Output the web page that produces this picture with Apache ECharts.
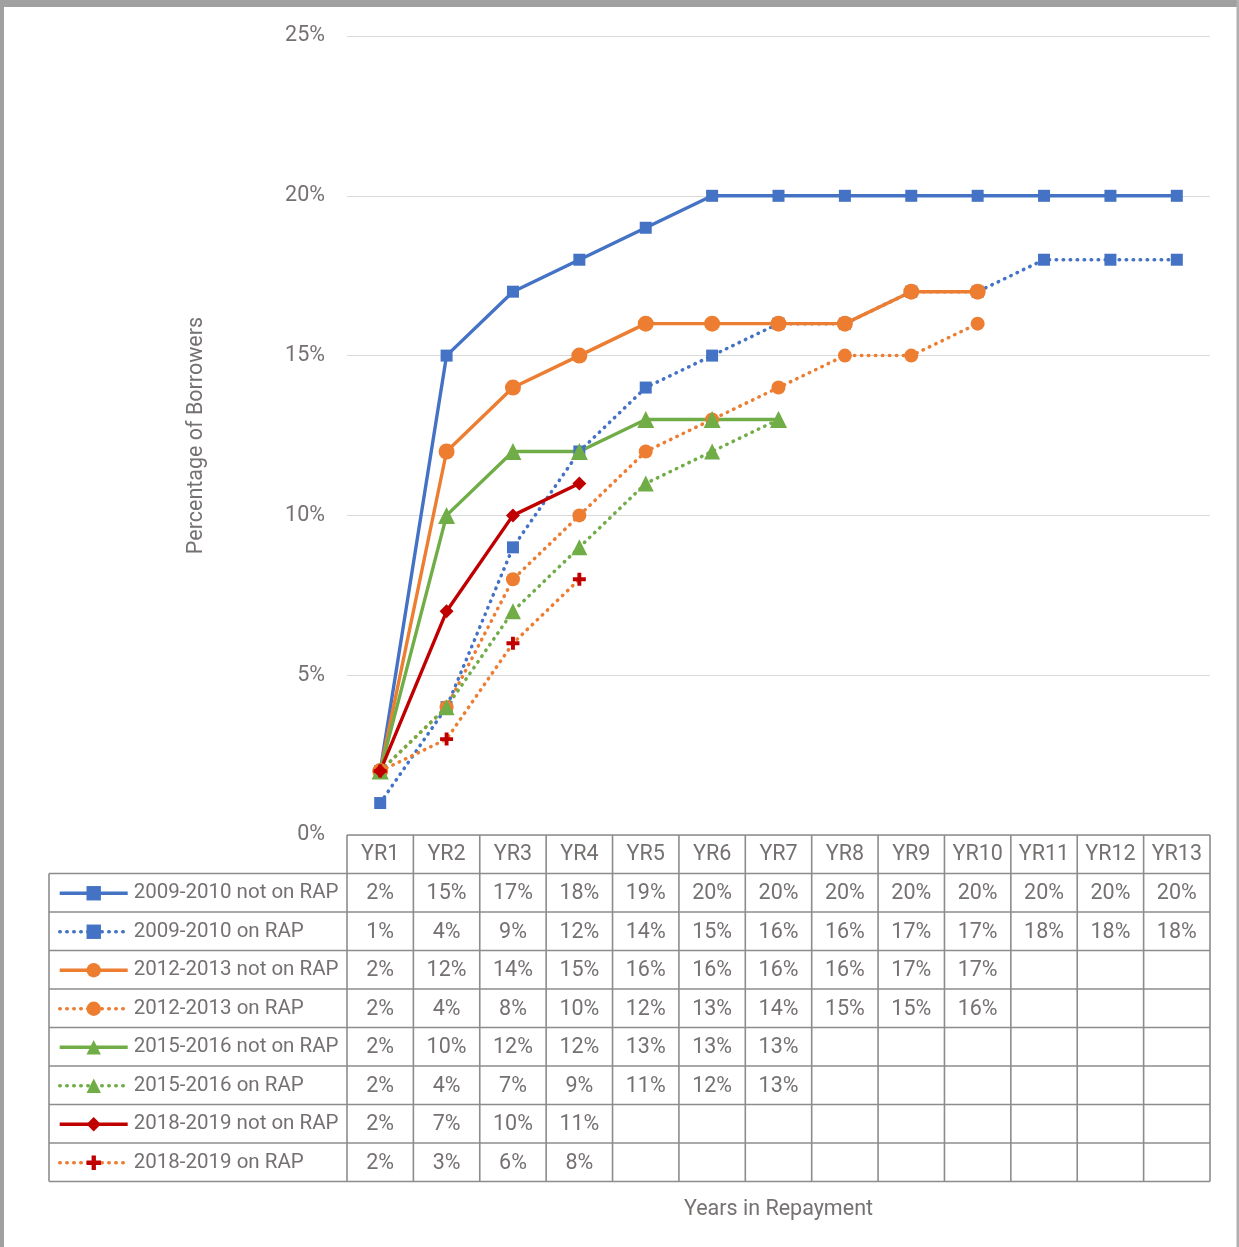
<!DOCTYPE html>
<html>
<head>
<meta charset="utf-8">
<script src="https://cdn.jsdelivr.net/npm/echarts@6/dist/echarts.min.js"></script>
<style>
  html, body { margin: 0; padding: 0; background: #fff; }
  #chart { width: 1239px; height: 1247px; }
</style>
</head>
<body>
<div id="chart"></div>
<script>
// Share of borrowers by years in repayment, per cohort and RAP status (percent)
const years = ['YR1','YR2','YR3','YR4','YR5','YR6','YR7','YR8','YR9','YR10','YR11','YR12','YR13'];
const yTicks = [0, 5, 10, 15, 20, 25];

const c0910Not = [2, 15, 17, 18, 19, 20, 20, 20, 20, 20, 20, 20, 20];
const c0910On  = [1, 4, 9, 12, 14, 15, 16, 16, 17, 17, 18, 18, 18];
const c1213Not = [2, 12, 14, 15, 16, 16, 16, 16, 17, 17];
const c1213On  = [2, 4, 8, 10, 12, 13, 14, 15, 15, 16];
const c1516Not = [2, 10, 12, 12, 13, 13, 13];
const c1516On  = [2, 4, 7, 9, 11, 12, 13];
const c1819Not = [2, 7, 10, 11];
const c1819On  = [2, 3, 6, 8];

const FONT = "Roboto, 'Liberation Sans', sans-serif";
const FS = 21.5;
const KEY_FS = 20.5;
const TEXT = '#767171';
const RULE = '#8c8c8c';
const BLUE = '#4472c4', ORANGE = '#ed7d31', GREEN = '#70ad47', RED = '#c00000';
const DOTS = [0.5, 6.5];
const PLUS = 'path://M3.5,0H6.5V3.5H10V6.5H6.5V10H3.5V6.5H0V3.5H3.5Z';

const seriesDefs = [
  { name: '2009-2010 not on RAP', data: c0910Not, color: BLUE,   dotted: false, symbol: 'rect',     size: 12 },
  { name: '2009-2010 on RAP',     data: c0910On,  color: BLUE,   dotted: true,  symbol: 'rect',     size: 12 },
  { name: '2012-2013 not on RAP', data: c1213Not, color: ORANGE, dotted: false, symbol: 'circle',   size: 16 },
  { name: '2012-2013 on RAP',     data: c1213On,  color: ORANGE, dotted: true,  symbol: 'circle',   size: 14 },
  { name: '2015-2016 not on RAP', data: c1516Not, color: GREEN,  dotted: false, symbol: 'triangle', size: 17 },
  { name: '2015-2016 on RAP',     data: c1516On,  color: GREEN,  dotted: true,  symbol: 'triangle', size: 16 },
  { name: '2018-2019 not on RAP', data: c1819Not, color: RED,    dotted: false, symbol: 'diamond',  size: 14 },
  { name: '2018-2019 on RAP',     data: c1819On,  color: ORANGE, dotted: true,  symbol: PLUS,       size: 13, markColor: RED }
];

// Layout of the plot and the data table beneath it
const GRID = { left: 347, right: 29, top: 36, bottom: 412 };
const TABLE_TOP = 835;
const ROW_H = 38.5;
const KEY_LEFT = 49;

const chart = echarts.init(document.getElementById('chart'), null, { renderer: 'canvas' });

const series = seriesDefs.map(d => ({
  name: d.name,
  type: 'line',
  data: d.data,
  symbol: d.symbol,
  symbolSize: d.size,
  showSymbol: true,
  animation: false,
  itemStyle: { color: d.markColor || d.color, borderWidth: 0 },
  lineStyle: d.dotted
    ? { color: d.color, width: 3.5, type: DOTS, cap: 'round' }
    : { color: d.color, width: 3.4 },
  emphasis: { disabled: true }
}));

// One key per table row, so each sits centred in its own row
const legends = seriesDefs.map((d, r) => ({
  orient: 'horizontal',
  left: 58,
  top: TABLE_TOP + ROW_H * (r + 1) + ROW_H / 2 - 10,
  padding: 0,
  itemWidth: 68,
  itemHeight: 18,
  itemGap: 0,
  selectedMode: false,
  lineStyle: { width: 'inherit' },
  textStyle: { fontFamily: FONT, fontSize: KEY_FS, color: TEXT, padding: [0, 0, 0, 1] },
  data: [d.name]
}));

chart.setOption({
  backgroundColor: '#ffffff',
  animation: false,
  textStyle: { fontFamily: FONT },
  grid: GRID,
  legend: legends,
  xAxis: {
    type: 'category',
    data: years,
    boundaryGap: true,
    axisLine: { show: false },
    axisTick: { show: false },
    axisLabel: {
      interval: 0,
      margin: 20,
      verticalAlign: 'middle',
      fontFamily: FONT,
      fontSize: FS,
      color: TEXT
    },
    name: 'Years in Repayment',
    nameLocation: 'middle',
    nameGap: 364,
    nameTextStyle: { fontFamily: FONT, fontSize: FS, color: TEXT }
  },
  yAxis: {
    type: 'value',
    min: yTicks[0],
    max: yTicks[yTicks.length - 1],
    interval: yTicks[1] - yTicks[0],
    axisLine: { show: false },
    axisTick: { show: false },
    splitLine: { lineStyle: { color: '#d9d9d9', width: 1 } },
    axisLabel: {
      margin: 22,
      padding: [6, 0, 0, 0],
      formatter: '{value}%',
      fontFamily: FONT,
      fontSize: FS,
      color: TEXT
    },
    name: 'Percentage of Borrowers',
    nameLocation: 'middle',
    nameGap: 139,
    nameTextStyle: { fontFamily: FONT, fontSize: FS, color: TEXT }
  },
  series: series
});

// Build the data table from the axis scale: column rules, row rules and value cells
function buildTable() {
  const p0 = chart.convertToPixel({ xAxisIndex: 0 }, 0);
  const p1 = chart.convertToPixel({ xAxisIndex: 0 }, 1);
  const step = p1 - p0;
  const colLeft = p0 - step / 2;
  const colRight = colLeft + step * years.length;
  const nRows = seriesDefs.length;
  const bottom = TABLE_TOP + ROW_H * (nRows + 1);
  const els = [];
  const rule = { stroke: RULE, lineWidth: 1.6 };

  // header top edge
  els.push({ type: 'line', shape: { x1: colLeft, y1: TABLE_TOP, x2: colRight, y2: TABLE_TOP }, style: rule, silent: true });
  // row separators
  for (let r = 1; r <= nRows + 1; r++) {
    const y = TABLE_TOP + ROW_H * r;
    els.push({ type: 'line', shape: { x1: KEY_LEFT, y1: y, x2: colRight, y2: y }, style: rule, silent: true });
  }
  // column rules
  for (let c = 0; c <= years.length; c++) {
    const x = colLeft + step * c;
    els.push({ type: 'line', shape: { x1: x, y1: TABLE_TOP, x2: x, y2: bottom }, style: rule, silent: true });
  }
  // key column left edge
  els.push({ type: 'line', shape: { x1: KEY_LEFT, y1: TABLE_TOP + ROW_H, x2: KEY_LEFT, y2: bottom }, style: rule, silent: true });

  // value cells
  seriesDefs.forEach((d, r) => {
    const yc = TABLE_TOP + ROW_H * (r + 1) + ROW_H / 2 + 1;
    d.data.forEach((v, c) => {
      els.push({
        type: 'text',
        x: chart.convertToPixel({ xAxisIndex: 0 }, c),
        y: yc,
        silent: true,
        style: {
          text: v + '%',
          fontFamily: FONT,
          fontSize: FS,
          fill: TEXT,
          align: 'center',
          verticalAlign: 'middle'
        }
      });
    });
  });

  // page frame
  els.push({ type: 'rect', shape: { x: 0, y: 0, width: 1239, height: 7 }, style: { fill: '#a0a0a0' }, silent: true });
  els.push({ type: 'rect', shape: { x: 0, y: 0, width: 4, height: 1247 }, style: { fill: '#a0a0a0' }, silent: true });
  els.push({ type: 'rect', shape: { x: 1236.5, y: 0, width: 2.5, height: 1247 }, style: { fill: '#b0b0b0' }, silent: true });

  chart.setOption({ graphic: { elements: els } });
}
buildTable();
</script>
</body>
</html>
